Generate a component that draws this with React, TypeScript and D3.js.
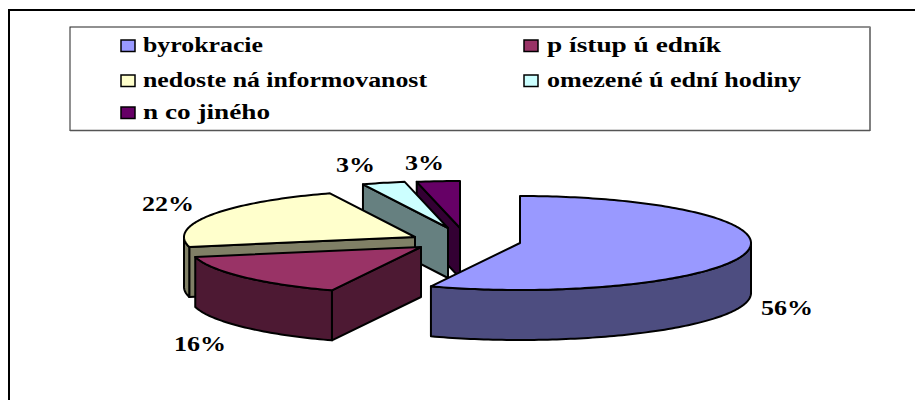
import React from "react";
import * as d3 from "d3";

const categories = ["byrokracie", "p ístup ú edník", "nedoste ná informovanost", "omezené ú ední hodiny", "n co jiného"];
const shares = [56.3, 15.3, 22.4, 3, 3];
const valueLabels = ["56%", "16%", "22%", "3%", "3%"];
const topColors = ["#9999FF", "#993366", "#FFFFCC", "#CCFFFF", "#660066"];
const sideColors = ["#4D4D80", "#4D1933", "#808066", "#668080", "#330033"];
// exploded apex of every slice
const apexX = [520, 421, 415, 448, 460];
const apexY = [243, 247, 237, 228, 228];
const labelX = [761, 174, 142, 336, 405];
const labelY = [315, 351, 211, 172, 170];
const legendX = [121, 524, 121, 524, 121];
const legendY = [52, 52, 87, 87, 119];
const legendW = [120, 174, 284, 254, 127];
const drawOrder = [4, 3, 2, 1, 0];

const RX = 231, RY = 47, DEPTH = 50;
const serif = "'Liberation Serif','Times New Roman',serif";

const pt = (cx: number, cy: number, a: number): [number, number] => [cx + RX * Math.sin(a), cy - RY * Math.cos(a)];

export default function App() {
  const pie = d3.pie<number>().sort(null).value(d => d)(shares);
  const line = d3.line();
  const rim = (i: number, a0: number, a1: number, dy = 0) => {
    const n = Math.max(2, Math.ceil((a1 - a0) / 0.02));
    return d3.range(n + 1).map(k => pt(apexX[i], apexY[i] + dy, a0 + ((a1 - a0) * k) / n));
  };
  return (
    <svg width={915} height={400} style={{ position: "absolute", left: 0, top: 0 }}>
      <rect x={0} y={0} width={915} height={400} fill="#fff" />
      <path d="M9,400V10H915" fill="none" stroke="#000" strokeWidth={2} />
      <rect x={70} y={27} width={800} height={103.5} fill="#fff" stroke="#222" strokeWidth={1} />
      <path d="M870,27V131" stroke="#808080" strokeWidth={2} fill="none" />
      <path d="M70,130.5H870" stroke="#555" strokeWidth={1.5} fill="none" />
      {categories.map((c, i) => (
        <g key={c}>
          <rect x={legendX[i]} y={legendY[i] - 12} width={14} height={11.5} fill={topColors[i]} stroke="#000" strokeWidth={1.5} />
          <text x={legendX[i] + (i % 2 ? 23 : 22)} y={legendY[i]} fontFamily={serif} fontWeight="bold" fontSize={20} textLength={legendW[i]} lengthAdjust="spacingAndGlyphs" style={{ whiteSpace: "pre" }}>{c}</text>
        </g>
      ))}
      {drawOrder.map(i => {
        const a0 = pie[i].startAngle, a1 = pie[i].endAngle;
        const ax = apexX[i], ay = apexY[i];
        const s = pt(ax, ay, a0);
        const lo = Math.max(a0, Math.PI / 2), hi = Math.min(a1, 1.5 * Math.PI);
        const wall = hi > lo ? [...rim(i, lo, hi), ...rim(i, lo, hi, DEPTH).reverse()] : null;
        const startFace = a0 > Math.PI
          ? [[ax, ay], s, [s[0], s[1] + DEPTH], [ax, ay + DEPTH]] as [number, number][]
          : null;
        const top = [[ax, ay] as [number, number], ...rim(i, a0, a1)];
        const style = { stroke: "#000", strokeWidth: 2, strokeLinejoin: "round" as const };
        return (
          <g key={i}>
            {startFace && <path d={line(startFace)! + "Z"} fill={sideColors[i]} {...style} />}
            {wall && <path d={line(wall)! + "Z"} fill={sideColors[i]} {...style} />}
            <path d={line(top)! + "Z"} fill={topColors[i]} {...style} />
          </g>
        );
      })}
      {valueLabels.map((t, i) => (
        <text key={i} x={labelX[i]} y={labelY[i]} fontFamily={serif} fontWeight="bold" fontSize={22} textLength={t.length === 3 ? 52 : 39} lengthAdjust="spacingAndGlyphs">{t}</text>
      ))}
    </svg>
  );
}
